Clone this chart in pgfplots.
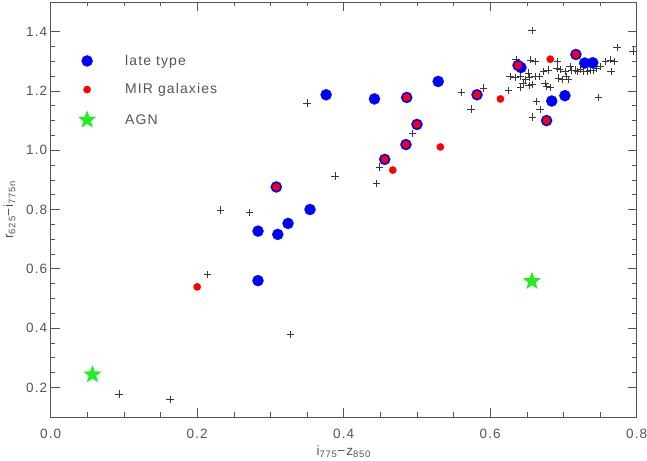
\documentclass[border=0pt]{standalone}
\usepackage{pgfplots}
\pgfplotsset{compat=1.18}
\usepackage{fontspec}
\setmainfont{Liberation Sans}[LetterSpace=8]
\definecolor{axgray}{HTML}{555555}
\definecolor{txtgray}{HTML}{555555}
\definecolor{plusgray}{HTML}{3A3A3A}
\definecolor{agngreen}{HTML}{22EE22}

\pgfdeclareplotmark{fstar}{%
  \pgfpathmoveto{\pgfpointpolar{90}{\pgfplotmarksize}}%
  \pgfpathlineto{\pgfpointpolar{126}{0.42\pgfplotmarksize}}%
  \pgfpathlineto{\pgfpointpolar{162}{\pgfplotmarksize}}%
  \pgfpathlineto{\pgfpointpolar{198}{0.42\pgfplotmarksize}}%
  \pgfpathlineto{\pgfpointpolar{234}{\pgfplotmarksize}}%
  \pgfpathlineto{\pgfpointpolar{270}{0.42\pgfplotmarksize}}%
  \pgfpathlineto{\pgfpointpolar{306}{\pgfplotmarksize}}%
  \pgfpathlineto{\pgfpointpolar{342}{0.42\pgfplotmarksize}}%
  \pgfpathlineto{\pgfpointpolar{18}{\pgfplotmarksize}}%
  \pgfpathlineto{\pgfpointpolar{54}{0.42\pgfplotmarksize}}%
  \pgfpathclose
  \pgfusepathqfill
}

\pgfplotsset{myleg/.style={legend image code/.code={\path[draw=none,fill=none] (-10pt,0pt) (36pt,0pt);\draw[##1,only marks] plot coordinates {(0pt,0pt)};}}}

\pgfplotstableread{
x y
0.093 0.178
0.163 0.159
0.214 0.581
0.232 0.798
0.271 0.789
0.327 0.378
0.350 1.159
0.388 0.913
0.445 0.887
0.449 0.943
0.494 1.057
0.561 1.195
0.574 1.139
0.591 1.210
0.625 1.202
0.627 1.249
0.634 1.245
0.635 1.307
0.641 1.251
0.641 1.212
0.645 1.226
0.648 1.238
0.652 1.260
0.653 1.219
0.654 1.245
0.655 1.305
0.657 1.221
0.657 1.404
0.658 1.112
0.661 1.249
0.661 1.299
0.663 1.165
0.667 1.249
0.668 1.137
0.673 1.266
0.675 1.226
0.677 1.215
0.679 1.271
0.682 1.212
0.691 1.277
0.692 1.300
0.693 1.243
0.695 1.273
0.698 1.238
0.702 1.266
0.704 1.249
0.707 1.238
0.709 1.282
0.711 1.271
0.716 1.271
0.719 1.266
0.723 1.273
0.727 1.266
0.732 1.266
0.736 1.271
0.741 1.271
0.745 1.277
0.748 1.178
0.750 1.282
0.757 1.299
0.764 1.305
0.765 1.266
0.770 1.299
0.773 1.346
0.795 1.335
}\plustable

\pgfplotstableread{
x y
0.376 1.187
0.442 1.173
0.486 1.178
0.529 1.232
0.582 1.187
0.500 1.087
0.485 1.019
0.456 0.969
0.308 0.876
0.354 0.800
0.324 0.753
0.283 0.727
0.310 0.716
0.283 0.560
0.638 1.286
0.642 1.279
0.717 1.323
0.729 1.294
0.740 1.295
0.684 1.166
0.702 1.184
0.677 1.100
}\latetable

\pgfplotstableread{
x y
0.486 1.178
0.582 1.187
0.500 1.087
0.485 1.019
0.456 0.969
0.308 0.876
0.638 1.286
0.717 1.323
0.677 1.100
0.532 1.011
0.467 0.933
0.200 0.539
0.614 1.173
0.682 1.307
}\mirtable

\pgfplotstableread{
x y
0.057 0.243
0.657 0.558
}\agntable

\begin{document}
\begin{tikzpicture}
\begin{axis}[
  scale only axis, width=586pt, height=415pt,
  xmin=0, xmax=0.8, ymin=0.1, ymax=1.5,
  xtick={0,0.2,0.4,0.6,0.8}, ytick={0.2,0.4,0.6,0.8,1.0,1.2,1.4},
  minor x tick num=3, minor y tick num=3,
  tick align=inside, xtick pos=both, ytick pos=both,
  major tick length=9pt, minor tick length=4.5pt,
  axis line style={axgray, line width=0.8pt},
  tick style={axgray, line width=0.6pt},
  /pgf/number format/assume math mode=true,
  /pgf/number format/fixed, /pgf/number format/fixed zerofill, /pgf/number format/precision=1,
  tick label style={font=\fontsize{13.5}{15}\selectfont, text=txtgray},
  xticklabel style={yshift=-9pt},
  label style={font=\fontsize{13.5}{15}\selectfont, text=txtgray},
  xlabel={i\textsubscript{775}−z\textsubscript{850}},
  ylabel={r\textsubscript{625}−i\textsubscript{775n}},
  ylabel style={yshift=4pt},
  legend style={draw=none, fill=none, at={(axis cs:0.0317,1.335)}, anchor=north west,
    font=\fontsize{14}{16}\selectfont, text=txtgray, row sep=13pt},
  legend cell align=left,
]
\addplot[only marks, mark=+, mark size=3.7pt, plusgray, line width=0.55pt, forget plot] table[x=x,y=y] {\plustable};
\addplot[only marks, color=blue, mark=*, mark size=5.6pt, mark options={draw=blue, fill=blue, line width=0.2pt}, myleg]
  table[x=x,y=y] {\latetable};
\addlegendentry{late type}
\addplot[only marks, color=red, mark=*, mark size=3.7pt, mark options={draw=red, fill=red, line width=0.2pt}, myleg]
  table[x=x,y=y] {\mirtable};
\addlegendentry{MIR galaxies}
\addplot[only marks, color=agngreen, mark=fstar, mark size=9.5pt, mark options={draw=none, fill=agngreen}, myleg]
  table[x=x,y=y] {\agntable};
\addlegendentry{AGN}
\end{axis}
\pgfresetboundingbox
\path (current axis.south west) ++(-50.7pt,-43pt) rectangle ([xshift=10.3pt,yshift=2pt]current axis.north east);
\end{tikzpicture}
\end{document}
